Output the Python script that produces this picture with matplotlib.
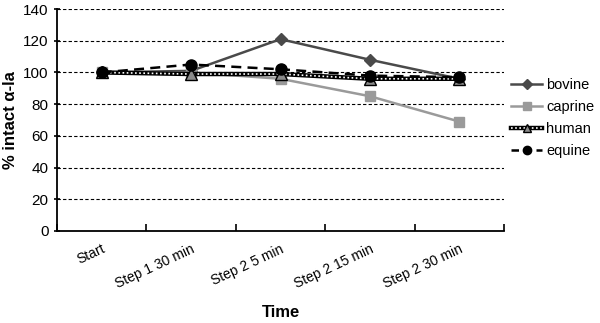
import matplotlib.pyplot as plt
from matplotlib.lines import Line2D

# Data
steps = ['Start', 'Step 1 30 min', 'Step 2 5 min', 'Step 2 15 min', 'Step 2 30 min']
bovine = [100, 101, 121, 108, 96]
caprine = [100, 100, 96, 85, 69]
human = [100, 99, 99, 96, 96]
equine = [100, 105, 102, 98, 97]

plt.rcParams['font.family'] = ['Liberation Sans', 'DejaVu Sans']

fig = plt.figure(figsize=(6, 3.23), dpi=100)
ax = fig.add_axes([0.095, 0.285, 0.745, 0.687])

x = list(range(len(steps)))

# grid
for yv in range(20, 141, 20):
    ax.axhline(yv, color='black', linestyle=(0, (3, 2)), linewidth=0.8, zorder=0)

ax.plot(x, bovine, color='#4a4a4a', linewidth=1.8, marker='D', markersize=6,
        label='bovine', zorder=3)
ax.plot(x, caprine, color='#9a9a9a', linewidth=1.8, marker='s', markersize=7,
        label='caprine', zorder=3)
# human: thick black line with white dots
ax.plot(x, human, color='black', linewidth=3.2, zorder=4)
ax.plot(x, human, color='white', linewidth=1.2, linestyle=(0, (1, 1.5)), zorder=4)
ax.plot(x, human, color='#8a8a8a', linestyle='none', marker='^', markersize=8,
        markeredgecolor='black', markeredgewidth=1, zorder=5)
ax.plot(x, equine, color='black', linewidth=1.8, linestyle=(0, (4, 2.5)), marker='o',
        markersize=8, label='equine', zorder=6)

ax.set_xlim(-0.5, len(steps) - 0.5)
ax.set_ylim(0, 140)
ax.set_yticks(range(0, 141, 20))
ax.set_xticks(x)
ax.set_xticklabels(steps, rotation=25, ha='right', rotation_mode='anchor', fontsize=10)
ax.tick_params(axis='x', length=0, pad=8)
ax.set_xticks([i - 0.5 for i in range(len(steps) + 1)], minor=True)
ax.tick_params(axis='x', which='minor', length=5, direction='in', width=1.2)
ax.tick_params(axis='y', length=5, direction='inout', width=1.2, labelsize=11)

for side in ['top', 'right']:
    ax.spines[side].set_visible(False)
for side in ['left', 'bottom']:
    ax.spines[side].set_linewidth(1.3)

ax.set_ylabel('% intact α-la', fontsize=12, fontweight='bold')
ax.set_xlabel('Time', fontsize=12, fontweight='bold', labelpad=10)

# legend
h_bov = Line2D([], [], color='#4a4a4a', linewidth=1.8, marker='D', markersize=5)
h_cap = Line2D([], [], color='#9a9a9a', linewidth=1.8, marker='s', markersize=6)
h_hum = (Line2D([], [], color='black', linewidth=3.2),
         Line2D([], [], color='white', linewidth=1.2, linestyle=(0, (1, 1.5))),
         Line2D([], [], color='#8a8a8a', linestyle='none', marker='^', markersize=6,
                markeredgecolor='black'))
h_equ = Line2D([], [], color='black', linewidth=1.8, linestyle=(0, (3, 2)), marker='o',
               markersize=6)
fig.legend([h_bov, h_cap, h_hum, h_equ], ['bovine', 'caprine', 'human', 'equine'],
           loc='upper left', bbox_to_anchor=(0.835, 0.79), frameon=False,
           fontsize=10.5, handlelength=2.1, handletextpad=0.3, labelspacing=0.55,
           borderpad=0.2)

fig.savefig('out.png', dpi=100)
